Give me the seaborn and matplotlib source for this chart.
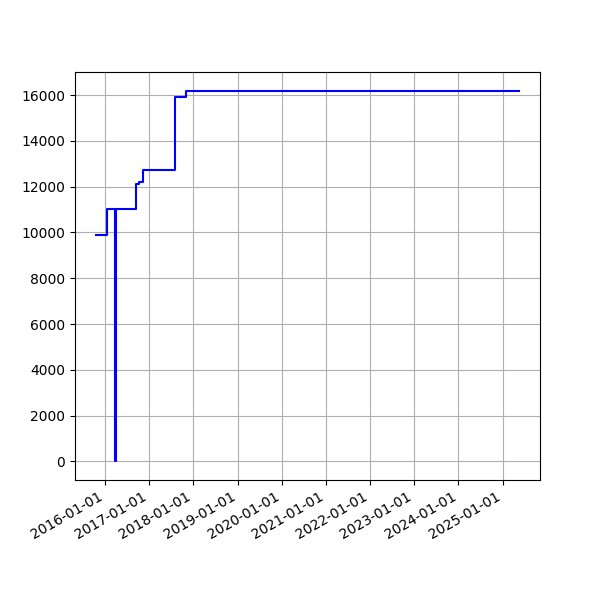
import matplotlib
matplotlib.use("Agg")
import matplotlib.pyplot as plt
import matplotlib.dates as mdates
import seaborn as sns
import pandas as pd

dates = ["2015-10-20", "2016-01-20", "2016-03-23", "2016-03-31", "2016-09-10",
         "2016-10-08", "2016-11-07", "2017-08-01", "2017-10-29", "2025-05-15"]
values = [9880, 11030, 0, 11030, 12110, 12200, 12720, 15930, 16200, 16200]

df = pd.DataFrame({"date": pd.to_datetime(dates), "value": values})

fig, ax = plt.subplots(figsize=(6, 6), dpi=100)
sns.lineplot(data=df, x="date", y="value", ax=ax, color="blue",
             drawstyle="steps-post", estimator=None, linewidth=1.5)
ax.set_xlabel("")
ax.set_ylabel("")
ax.grid(True, color="#b0b0b0")
ax.xaxis.set_major_locator(mdates.YearLocator())
ax.xaxis.set_major_formatter(mdates.DateFormatter("%Y-%m-%d"))
fig.autofmt_xdate()
fig.savefig("out.png", dpi=100)
